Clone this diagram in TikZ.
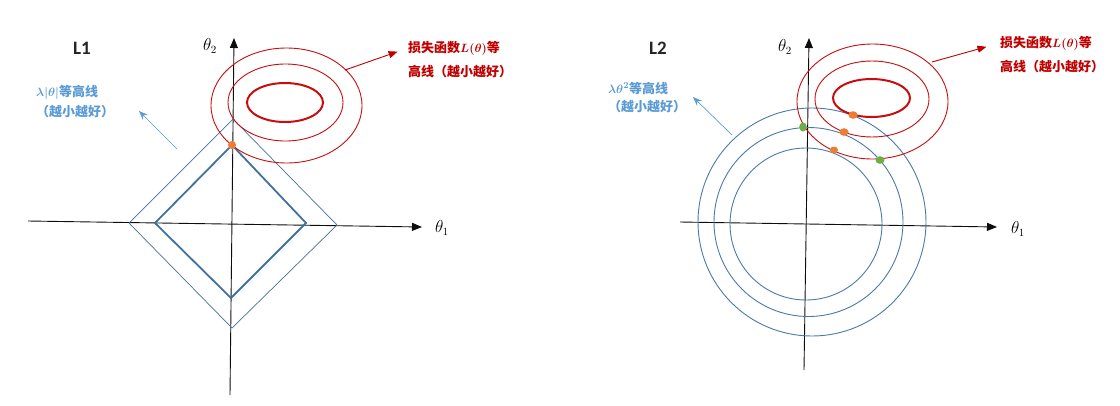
\documentclass[tikz,border=0pt]{standalone}
\usepackage{fontspec}
\usepackage{bm}
\setmainfont{Carlito}
\newfontfamily\cjk{Noto Sans CJK SC}
\usetikzlibrary{arrows.meta}

\newlength{\du}
\setlength{\du}{1pt}

\definecolor{axiscolor}{rgb}{0.050000, 0.050000, 0.050000}
\definecolor{normline}{rgb}{0.255000, 0.443000, 0.612000}
\definecolor{circline}{rgb}{0.290000, 0.478000, 0.667000}
\definecolor{lossline}{rgb}{0.780000, 0.050000, 0.050000}
\definecolor{losstextcolor}{rgb}{0.753000, 0.000000, 0.000000}
\definecolor{normtextcolor}{rgb}{0.357000, 0.608000, 0.835000}
\definecolor{orangedot}{rgb}{0.929000, 0.490000, 0.192000}
\definecolor{greendot}{rgb}{0.439000, 0.678000, 0.278000}

\begin{document}
\begin{tikzpicture}[
  axisline/.style={draw=axiscolor, line width=0.9\du, -{Triangle[length=10pt,width=8pt]}},
  axislabel/.style={inner sep=0pt, font=\fontsize{16}{16}\selectfont},
  paneltitle/.style={inner sep=0pt, text=black!85, font=\fontsize{19}{19}\selectfont\bfseries},
  losstext/.style={anchor=west, inner sep=0pt, text=losstextcolor, font=\fontsize{13}{13}\selectfont\cjk\bfseries\boldmath},
  normtext/.style={anchor=west, inner sep=0pt, text=normtextcolor, font=\fontsize{13}{13}\selectfont\cjk\bfseries\boldmath},
  lossarrow/.style={draw=losstextcolor, line width=0.9\du, -{Triangle[length=9pt,width=7pt]}},
  normarrow/.style={draw=normtextcolor, line width=0.7\du, -{Stealth[length=9pt,width=7pt]}},
  thinnorm/.style={draw=normline, line width=0.7\du, line join=miter},
  thicknorm/.style={draw=normline, line width=1.8\du, line join=miter},
  thinloss/.style={draw=lossline, line width=0.9\du},
  thickloss/.style={draw=lossline, line width=2.0\du},
  circ/.style={draw=circline, line width=0.9\du}
]
\pgftransformxscale{1.000000}
\pgftransformyscale{-1.000000}
\useasboundingbox (0\du,0\du) rectangle (1120\du,405\du);

% left panel: L1
\node[paneltitle] (titleleft) at (82\du,48\du){L1};
\coordinate (xleftstart) at (28\du,221\du);
\coordinate (xleftend) at (422\du,227\du);
\coordinate (yleftstart) at (230\du,395\du);
\coordinate (yleftend) at (234\du,38\du);
\draw[axisline] (xleftstart)--(xleftend);
\draw[axisline] (yleftstart)--(yleftend);
\node[axislabel] (thetaoneleft) at (442\du,228\du){$\theta_1$};
\node[axislabel] (thetatwoleft) at (210\du,46\du){$\theta_2$};
\draw[thinnorm] (129\du,223\du)--(233\du,119\du)--(337\du,225\du)--(232\du,328\du)--cycle;
\draw[thicknorm] (155\du,223\du)--(232\du,145\du)--(306\du,223\du)--(231\du,298\du)--cycle;
\draw[thinloss] (286.5\du,105.5\du) ellipse [x radius=75.5\du, y radius=57.5\du];
\draw[thinloss] (285.5\du,102.5\du) ellipse [x radius=57.5\du, y radius=38.5\du];
\draw[thickloss] (285\du,102.5\du) ellipse [x radius=38\du, y radius=19.5\du];
\fill[orangedot] (232\du,145\du) circle [radius=4\du];
% setfont left to latex
\node[losstext] (lossleftone) at (408\du,48\du){损失函数$\bm{L(\theta)}$等};
\node[losstext] (losslefttwo) at (408\du,72\du){高线（越小越好）};
\coordinate (lossleftfoot) at (345\du,70\du);
\draw[lossarrow, shorten >=11pt] (lossleftfoot)--(lossleftone.west);
\node[normtext] (normleftone) at (36\du,92\du){$\bm{\lambda|\theta|}$等高线};
\node[normtext] (normlefttwo) at (36\du,112\du){（越小越好）};
\coordinate (normleftfoot) at (177\du,149\du);
\coordinate (normlefttip) at (139\du,111\du);
\draw[normarrow] (normleftfoot)--(normlefttip);

% right panel: L2
\node[paneltitle] (titleright) at (658\du,48\du){L2};
\coordinate (xrightstart) at (680\du,222\du);
\coordinate (xrightend) at (997\du,227\du);
\coordinate (yrightstart) at (804\du,370\du);
\coordinate (yrightend) at (809\du,38\du);
\draw[axisline] (xrightstart)--(xrightend);
\draw[axisline] (yrightstart)--(yrightend);
\node[axislabel] (thetaoneright) at (1018\du,229\du){$\theta_1$};
\node[axislabel] (thetatworight) at (785\du,47\du){$\theta_2$};
\draw[circ] (812\du,222\du) circle [radius=114\du];
\draw[circ] (808.5\du,222\du) circle [radius=94.5\du];
\draw[circ] (806\du,224\du) circle [radius=76\du];
\draw[thinloss] (872.5\du,101.5\du) ellipse [x radius=75.5\du, y radius=57.5\du];
\draw[thinloss] (872\du,99\du) ellipse [x radius=57\du, y radius=38\du];
\draw[thickloss] (871.5\du,98\du) ellipse [x radius=38.5\du, y radius=19\du];
\fill[orangedot] (853\du,115\du) ellipse [x radius=4.5\du, y radius=3.8\du];
\fill[orangedot] (844\du,132\du) ellipse [x radius=4.5\du, y radius=3.8\du];
\fill[orangedot] (834\du,150\du) ellipse [x radius=4\du, y radius=3.5\du];
\fill[greendot] (803\du,127\du) ellipse [x radius=3.8\du, y radius=4.5\du];
\fill[greendot] (880\du,160\du) ellipse [x radius=4.5\du, y radius=3.8\du];
% setfont left to latex
\node[losstext] (lossrightone) at (1000\du,43\du){损失函数$\bm{L(\theta)}$等};
\node[losstext] (lossrighttwo) at (1000\du,67\du){高线（越小越好）};
\coordinate (lossrightfoot) at (932\du,62\du);
\draw[lossarrow, shorten >=14pt] (lossrightfoot)--(lossrightone.west);
\node[normtext] (normrightone) at (608\du,88\du){$\bm{\lambda\theta^2}$等高线};
\node[normtext] (normrighttwo) at (608\du,107\du){（越小越好）};
\coordinate (normrightfoot) at (732\du,135\du);
\coordinate (normrighttip) at (693\du,97\du);
\draw[normarrow] (normrightfoot)--(normrighttip);
\end{tikzpicture}
\end{document}
